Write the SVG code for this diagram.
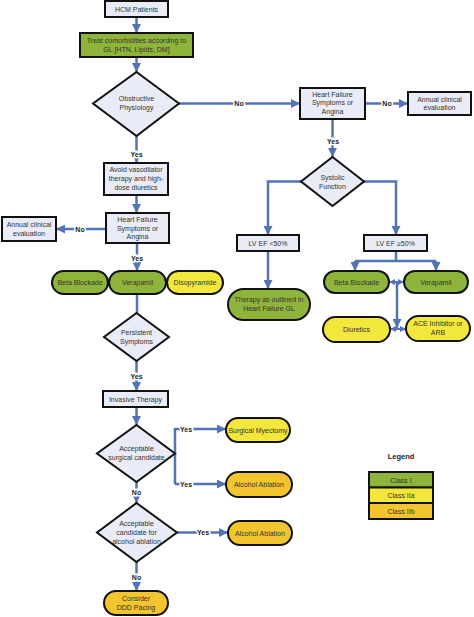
<svg xmlns="http://www.w3.org/2000/svg" width="474" height="617" viewBox="0 0 474 617">
<defs>
<marker id="ah" viewBox="0 0 10 10" refX="10" refY="5" markerWidth="9" markerHeight="9" markerUnits="userSpaceOnUse" orient="auto-start-reverse"><path d="M0,0 L10,5 L0,10 z" fill="#5273b5"/></marker>
<marker id="sm" viewBox="0 0 10 10" refX="10" refY="5" markerWidth="6" markerHeight="7" markerUnits="userSpaceOnUse" orient="auto-start-reverse"><path d="M0,0 L10,5 L0,10 z" fill="#5273b5"/></marker>
</defs>
<style>
.box{fill:#e9ecf6;stroke:#111;stroke-width:2}
.dia{fill:#e9ecf6;stroke:#111;stroke-width:2}
.g{fill:#8fb43c;stroke:#111;stroke-width:2}
.y{fill:#f4e73c;stroke:#111;stroke-width:2}
.o{fill:#f2c52f;stroke:#111;stroke-width:2}
text{font-family:"Liberation Sans",Arial,sans-serif;font-size:7px;fill:#333;text-anchor:middle}
.lbl{font-weight:bold;fill:#222;stroke:#fff;stroke-width:3;paint-order:stroke}
.c{fill:none;stroke:#5273b5;stroke-width:2.5}
.ca{fill:none;stroke:#5273b5;stroke-width:2.5;marker-end:url(#ah)}
.cs{fill:none;stroke:#5273b5;stroke-width:2;marker-start:url(#sm);marker-end:url(#sm)}
</style>
<rect width="474" height="617" fill="#fff"/>
<g id="connectors">
<path class="ca" d="M136.5 17 V33"/>
<path class="ca" d="M136.5 57 V72"/>
<path class="ca" d="M179 103.5 H300"/>
<path class="ca" d="M365 103.5 H408"/>
<path class="ca" d="M332.5 119 V157"/>
<path class="ca" d="M301 181.5 H268 V235"/>
<path class="ca" d="M364 181.5 H396 V235"/>
<path class="ca" d="M268 251 V289"/>
<path class="c" d="M396 251 V261 M355 261 H436"/>
<path class="ca" d="M355 261 V271"/>
<path class="ca" d="M436 261 V271"/>
<path class="cs" d="M389 282 H404"/>
<path class="ca" d="M397 282 V328"/>
<path class="cs" d="M390 329 H406"/>
<path class="ca" d="M136.5 136 V163"/>
<path class="ca" d="M136.5 195 V213"/>
<path class="ca" d="M106 229 H56"/>
<path class="ca" d="M137 243 V271"/>
<path class="c" d="M137 294 V313"/>
<path class="ca" d="M136.5 361 V391"/>
<path class="ca" d="M136.5 407 V425"/>
<path class="c" d="M175 453.5 V428 M175 453.5 V484"/>
<path class="ca" d="M175 429 H226"/>
<path class="ca" d="M175 484 H226"/>
<path class="ca" d="M136.5 482 V503"/>
<path class="ca" d="M177 532.5 H228"/>
<path class="ca" d="M136.5 562 V591"/>
<text class="lbl" x="239" y="106">No</text>
<text class="lbl" x="387" y="106">No</text>
<text class="lbl" x="333" y="143.5">Yes</text>
<text class="lbl" x="136.5" y="156.5">Yes</text>
<text class="lbl" x="80" y="231.5">No</text>
<text class="lbl" x="137" y="260.5">Yes</text>
<text class="lbl" x="136.5" y="378.5">Yes</text>
<text class="lbl" x="186" y="431.5">Yes</text>
<text class="lbl" x="186" y="486.5">Yes</text>
<text class="lbl" x="136.5" y="494.5">No</text>
<text class="lbl" x="203" y="535">Yes</text>
<text class="lbl" x="136.5" y="579.5">No</text>
</g>
<g id="hcm"><rect class="box" x="105" y="1" width="63" height="16"/><text x="136.5" y="12">HCM Patients</text></g>
<g id="treat"><rect class="g" x="80" y="33" width="113" height="24"/><text x="136.5" y="43">Treat comorbidities according to</text><text x="136.5" y="52">GL [HTN, Lipids, DM]</text></g>
<g id="obstructive"><polygon class="dia" points="136.5,72 179,103.5 136.5,136 93,103.5"/><text x="136.5" y="101">Obstructive</text><text x="136.5" y="110">Physiology</text></g>
<g id="avoid"><rect class="box" x="104" y="163" width="64" height="32"/><text x="136" y="172">Avoid vasodilator</text><text x="136" y="181">therapy and high-</text><text x="136" y="190">dose diuretics</text></g>
<g id="hf-left"><rect class="box" x="106" y="213" width="63" height="30"/><text x="137.5" y="222">Heart Failure</text><text x="137.5" y="230.5">Symptoms or</text><text x="137.5" y="239">Angina</text></g>
<g id="annual-left"><rect class="box" x="2" y="217" width="54" height="24"/><text x="29" y="227">Annual clinical</text><text x="29" y="235.5">evaluation</text></g>
<g id="beta-left"><rect class="g" x="52" y="271" width="56" height="23" rx="11.5"/><text x="80" y="285">Beta Blockade</text></g>
<g id="verapamil-left"><rect class="g" x="109" y="271" width="57" height="23" rx="11.5"/><text x="137.5" y="285">Verapamil</text></g>
<g id="disopyramide"><rect class="y" x="167" y="271" width="56" height="23" rx="11.5"/><text x="195" y="285">Disopyramide</text></g>
<g id="persistent"><polygon class="dia" points="136.5,313 169,337 136.5,361 104,337"/><text x="136.5" y="335">Persistent</text><text x="136.5" y="344">Symptoms</text></g>
<g id="invasive"><rect class="box" x="103" y="391" width="65" height="16"/><text x="135.5" y="402">Invasive Therapy</text></g>
<g id="surgical-candidate"><polygon class="dia" points="136.5,425 175,453.5 136.5,482 97,453.5"/><text x="136.5" y="450.5">Acceptable</text><text x="136.5" y="459.5">surgical candidate</text></g>
<g id="myectomy"><rect class="y" x="226" y="418" width="64" height="24" rx="12"/><text x="258" y="432.5">Surgical Myectomy</text></g>
<g id="ablation-1"><rect class="o" x="226" y="472" width="66" height="25" rx="12.5"/><text x="259" y="487">Alcohol Ablation</text></g>
<g id="ablation-candidate"><polygon class="dia" points="136.5,503 177,532.5 136.5,562 97,532.5"/><text x="136.5" y="525.5">Acceptable</text><text x="136.5" y="534.5">candidate for</text><text x="136.5" y="543.5">alcohol ablation</text></g>
<g id="ablation-2"><rect class="o" x="228" y="521" width="64" height="24" rx="12"/><text x="260" y="535.5">Alcohol Ablation</text></g>
<g id="ddd"><rect class="o" x="104" y="591" width="64" height="24" rx="12"/><text x="136" y="600.5">Consider</text><text x="136" y="609.5">DDD Pacing</text></g>
<g id="hf-right"><rect class="box" x="300" y="88" width="65" height="31"/><text x="332.5" y="96.5">Heart Failure</text><text x="332.5" y="105">Symptoms or</text><text x="332.5" y="113.5">Angina</text></g>
<g id="annual-right"><rect class="box" x="408" y="92" width="63" height="23"/><text x="439.5" y="101.5">Annual clinical</text><text x="439.5" y="110">evaluation</text></g>
<g id="systolic"><polygon class="dia" points="332.5,157 364,181.5 332.5,206 301,181.5"/><text x="332.5" y="179.5">Systolic</text><text x="332.5" y="188.5">Function</text></g>
<g id="lvef-low"><rect class="box" x="237" y="235" width="62" height="16"/><text x="268" y="246">LV EF &lt;50%</text></g>
<g id="lvef-high"><rect class="box" x="364" y="235" width="63" height="16"/><text x="395.5" y="246">LV EF ≥50%</text></g>
<g id="therapy-hf"><rect class="g" x="228" y="289" width="82" height="31" rx="15.5"/><text x="269" y="302">Therapy as outlined in</text><text x="269" y="311">Heart Failure GL</text></g>
<g id="beta-right"><rect class="g" x="324" y="271" width="65" height="22" rx="11"/><text x="356.5" y="284.5">Beta Blockade</text></g>
<g id="verapamil-right"><rect class="g" x="404" y="271" width="64" height="22" rx="11"/><text x="436" y="284.5">Verapamil</text></g>
<g id="diuretics"><rect class="y" x="323" y="317" width="67" height="25" rx="12.5"/><text x="356.5" y="332">Diuretics</text></g>
<g id="ace"><rect class="y" x="406" y="316" width="64" height="25" rx="12.5"/><text x="438" y="326">ACE Inhibitor or</text><text x="438" y="335">ARB</text></g>
<g id="legend">
<text x="401" y="458.5" style="font-weight:bold;font-size:7.5px;fill:#222">Legend</text>
<rect class="g" x="369" y="472" width="64" height="15.5"/><text x="401" y="482.5">Class I</text>
<rect class="y" x="369" y="487.5" width="64" height="15.5"/><text x="401" y="498">Class IIa</text>
<rect class="o" x="369" y="503" width="64" height="16"/><text x="401" y="513.5">Class IIb</text>
</g>
</svg>
